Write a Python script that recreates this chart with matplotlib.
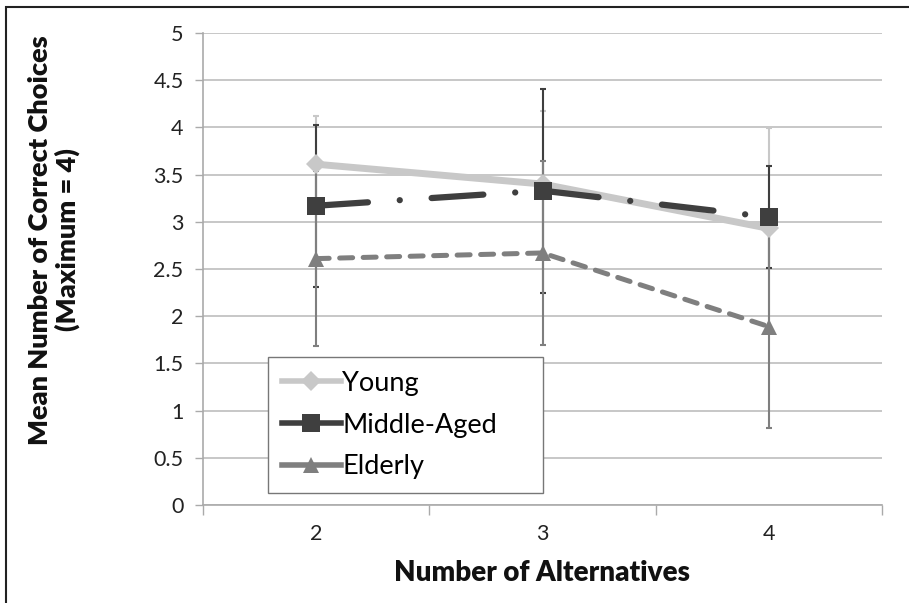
import numpy as np
import matplotlib
matplotlib.use('Agg')
import matplotlib.pyplot as plt
from matplotlib.patches import Rectangle

plt.rcParams['font.family'] = ['Lato', 'DejaVu Sans']

# data
alternatives = ['2', '3', '4']
groups = ['Young', 'Middle-Aged', 'Elderly']
young = [3.61, 3.40, 2.93]
young_err = [0.51, 0.77, 1.06]
middle = [3.17, 3.33, 3.05]
middle_err = [0.86, 1.08, 0.54]
elderly = [2.61, 2.67, 1.89]
elderly_err = [0.93, 0.97, 1.07]

colors = ['#C8C8C8', '#3F3F3F', '#7F7F7F']
markers = ['D', 's', '^']
msizes = [10, 12.5, 12]
lws = [5.0, 4.5, 3.6]
styles = ['-', (0, (8.3, 5.1, 0.01, 5.1)), (0, (2.6, 2.1))]

fig = plt.figure(figsize=(9.09, 6.03), dpi=100)
ax = fig.add_axes([203 / 909, 1 - 505 / 603, 679 / 909, 472 / 603])

x = np.arange(len(alternatives))
vals = [young, middle, elderly]
errs = [young_err, middle_err, elderly_err]

for v, e, c in zip(vals, errs, colors):
    ax.errorbar(x, v, yerr=e, fmt='none', ecolor=c, elinewidth=1.5,
                capsize=2.5, capthick=1.5, zorder=3)

for v, name, c, m, ms, lw, ls in zip(vals, groups, colors, markers, msizes, lws, styles):
    ax.plot(x, v, color=c, marker=m, markersize=ms, linewidth=lw, linestyle=ls,
            dash_capstyle='round', markeredgewidth=0, label=name, zorder=4)

ax.set_xlim(-0.5, 2.5)
ax.set_ylim(0, 5)
ax.set_yticks(np.arange(0, 5.01, 0.5))
ax.set_yticklabels(['0', '0.5', '1', '1.5', '2', '2.5', '3', '3.5', '4', '4.5', '5'])
ax.set_xticks(x)
ax.set_xticklabels(alternatives)
ax.set_xticks([-0.5, 0.5, 1.5, 2.5], minor=True)
ax.tick_params(axis='x', which='major', length=0, pad=14, labelsize=15.5, colors='#222222')
ax.tick_params(axis='x', which='minor', length=7, width=1, color='#AAAAAA')
ax.tick_params(axis='y', length=6, width=1, color='#AAAAAA', pad=8, labelsize=15.5,
               labelcolor='#222222')

ax.grid(axis='y', color='#BEBEBE', linewidth=1.2)
ax.set_axisbelow(True)
for s in ['top', 'right']:
    ax.spines[s].set_visible(False)
for s in ['left', 'bottom']:
    ax.spines[s].set_color('#AAAAAA')
    ax.spines[s].set_linewidth(1.2)

ax.set_xlabel('Number of Alternatives', fontsize=20, fontweight='heavy',
              color='#111111', labelpad=11)
fig.text(54 / 909, 1 - 240 / 603, 'Mean Number of Correct Choices\n(Maximum = 4)',
         rotation=90, ha='center', va='center', multialignment='center',
         fontsize=19.5, fontweight='heavy', color='#111111', linespacing=1.1)

leg = ax.legend(loc='lower left', bbox_to_anchor=(0.0957, 0.0254, 0.405, 0.29),
                mode='expand', fontsize=19.5,
                frameon=True, fancybox=False, edgecolor='#777777', framealpha=1,
                handlelength=2.2, handletextpad=0.05, labelspacing=0.62,
                borderpad=0.5, borderaxespad=0)
leg.get_frame().set_linewidth(1.0)
for h in leg.get_lines():
    h.set_linestyle('-')
    h.set_linewidth(4)

# outer frame (top and left edge visible in the reference)
fig.add_artist(Rectangle((6 / 909, -0.05), 1.2, 1 - 6.5 / 603 + 0.05,
                         transform=fig.transFigure, fill=False,
                         edgecolor='#222222', linewidth=1.5, clip_on=False))

fig.savefig('out.png', dpi=100)
